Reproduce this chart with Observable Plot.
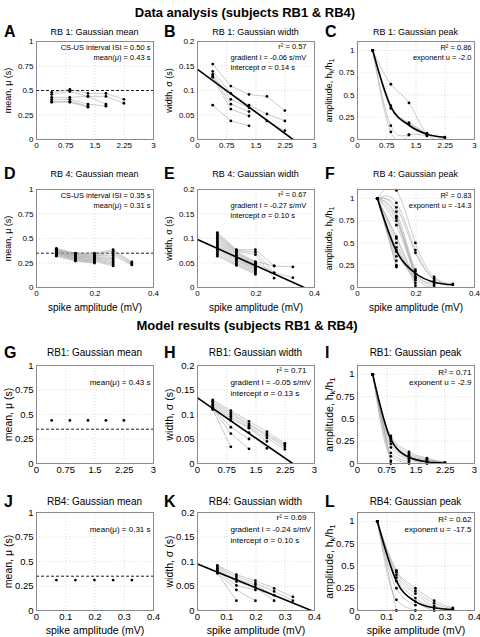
<!DOCTYPE html>
<html><head><meta charset="utf-8">
<script src="https://cdn.jsdelivr.net/npm/d3@7"></script>
<script src="https://cdn.jsdelivr.net/npm/@observablehq/plot@0.6"></script>
<style>
body{margin:0;background:#fff;}
#fig{position:relative;width:480px;height:637px;font-family:"Liberation Sans",Arial,sans-serif;overflow:hidden;background:#fff;color:#000;}
.abs{position:absolute;white-space:nowrap;line-height:1;}
.head{font-weight:bold;font-size:13px;transform:translate(-50%,-50%);}
.letter{font-weight:bold;font-size:16px;transform:translateY(-50%);}
.ptitle{transform:translate(-50%,-50%);}
svg{position:absolute;overflow:visible;}
</style></head><body><div id="fig"></div>
<script>
// ---------- data ----------
const xRB1 = [0.39, 0.855, 1.32, 1.78, 2.24];
const xRB4 = [0.068, 0.133, 0.198, 0.262, 0.326];
const xTicksRB1 = [0, 0.75, 1.5, 2.25, 3];
const xTicksData4 = [0, 0.2, 0.4];
const xTicksModel4 = [0, 0.1, 0.2, 0.3, 0.4];
const yTicksUnit = [0, 0.25, 0.5, 0.75, 1];
const yTicksWidth = [0, 0.05, 0.1, 0.15, 0.2];

const meanA = [
  [0.48, 0.51, 0.47, 0.47, 0.41],
  [0.46, 0.49, 0.44, 0.44, 0.37],
  [0.43, 0.43, 0.44, 0.36],
  [0.41, 0.41, 0.36, 0.34],
  [0.39, 0.39, 0.34],
  [0.38, 0.38, 0.33]
];
const widthB = [
  [0.154, 0.109, 0.092, 0.088, 0.059],
  [0.139, 0.094, 0.070, 0.052, 0.038],
  [0.133, 0.082, 0.065, 0.038, 0.018],
  [0.130, 0.072, 0.057],
  [0.127, 0.062, 0.048],
  [0.070, 0.038, 0.028]
];
const fitB = {x: [0, 2.45], y: [0.143, 0]};
const peakC = [
  [1, 0.62, 0.41, 0.06, 0.02],
  [1, 0.38, 0.19, 0.07, 0.025],
  [1, 0.35, 0.17, 0.055],
  [1, 0.155, 0.055, 0.04],
  [1, 0.085, 0.05]
];
const fitC = [1, 0.37, 0.16, 0.06, 0.025];

const meanD = [
  [0.40, 0.35, 0.35, 0.385, 0.26],
  [0.39, 0.345, 0.34, 0.37, 0.25],
  [0.385, 0.34, 0.33, 0.35, 0.24],
  [0.38, 0.33, 0.325, 0.33, 0.23],
  [0.375, 0.325, 0.315, 0.31],
  [0.37, 0.32, 0.31, 0.295],
  [0.365, 0.315, 0.30, 0.28],
  [0.36, 0.31, 0.295, 0.265],
  [0.355, 0.30, 0.285, 0.25],
  [0.35, 0.295, 0.28, 0.235],
  [0.345, 0.29, 0.27, 0.22],
  [0.34, 0.285, 0.265],
  [0.33, 0.275, 0.255],
  [0.32, 0.27, 0.25]
];
const widthE = [
  [0.112, 0.077, 0.077, 0.044, 0.042],
  [0.109, 0.076, 0.072, 0.030, 0.020],
  [0.106, 0.074, 0.067, 0.019],
  [0.103, 0.073, 0.053, 0.044],
  [0.100, 0.071, 0.051, 0.030],
  [0.097, 0.069, 0.049],
  [0.094, 0.067, 0.047],
  [0.091, 0.065, 0.045],
  [0.088, 0.062, 0.043],
  [0.085, 0.060, 0.041],
  [0.082, 0.058, 0.039],
  [0.079, 0.056, 0.037],
  [0.076, 0.053, 0.035],
  [0.072, 0.050, 0.032],
  [0.068, 0.047, 0.030],
  [0.064, 0.045, 0.027]
];
const fitE = {x: [0, 0.365], y: [0.098, 0]};
const peakF = [
  [1, 1.09, 0.50, 0.12, 0.04],
  [1, 0.95, 0.42, 0.10, 0.03],
  [1, 0.90, 0.39, 0.08],
  [1, 0.85, 0.20, 0.06],
  [1, 0.80, 0.18, 0.04],
  [1, 0.78, 0.15, 0.02],
  [1, 0.75, 0.12],
  [1, 0.70, 0.10],
  [1, 0.57, 0.08],
  [1, 0.55, 0.05],
  [1, 0.50, 0.02],
  [1, 0.45, 0.15],
  [1, 0.42, 0.12],
  [1, 0.40, 0.10],
  [1, 0.35],
  [1, 0.30],
  [1, 0.25],
  [1, 0.23]
];
const fitF = [1, 0.41, 0.16, 0.06, 0.03];

const meanG = [[0.44, 0.44, 0.44, 0.44, 0.44]];
const widthH = [
  [0.130, 0.108, 0.086, 0.065, 0.041],
  [0.127, 0.104, 0.081, 0.060, 0.038],
  [0.124, 0.100, 0.078, 0.057, 0.034],
  [0.121, 0.096, 0.074, 0.052, 0.029],
  [0.118, 0.092, 0.072, 0.045],
  [0.115, 0.088, 0.063, 0.031],
  [0.113, 0.074, 0.050],
  [0.112, 0.061, 0.030],
  [0.110, 0.034]
];
const fitH = {x: [0, 2.44], y: [0.134, 0]};
const peakI = [
  [1, 0.31, 0.13, 0.06, 0.01],
  [1, 0.29, 0.11, 0.05, 0.01],
  [1, 0.27, 0.09, 0.04, 0.01],
  [1, 0.25, 0.08, 0.03],
  [1, 0.22, 0.06, 0.02],
  [1, 0.18, 0.04, 0.0],
  [1, 0.12, 0.02],
  [1, 0.08, 0.0],
  [1, 0.03],
  [1, 0.0]
];
const fitI = [1, 0.27, 0.07, 0.02, 0.005];

const meanJ = [[0.31, 0.31, 0.31, 0.31, 0.31]];
const widthK = [
  [0.092, 0.073, 0.061, 0.045, 0.028],
  [0.089, 0.069, 0.056, 0.039, 0.020],
  [0.086, 0.064, 0.052, 0.031],
  [0.083, 0.059, 0.047, 0.020],
  [0.080, 0.051, 0.042],
  [0.077, 0.042, 0.020],
  [0.076, 0.020]
];
const fitK = {x: [0, 0.389], y: [0.095, 0]};
const peakL = [
  [1, 0.45, 0.25, 0.11, 0.03],
  [1, 0.43, 0.22, 0.08, 0.02],
  [1, 0.40, 0.19, 0.05, 0.01],
  [1, 0.37, 0.14, 0.03],
  [1, 0.33, 0.10, 0.0],
  [1, 0.25, 0.06],
  [1, 0.12, 0.0],
  [1, 0.0]
];
const fitL = [1, 0.33, 0.10, 0.03, 0.01];

// ---------- layout ----------
const fig = document.getElementById("fig");
const FONT = '"Liberation Sans", Arial, sans-serif';
const colLeft = [36, 197, 357];
const rowTop = [41, 189, 365, 512];
const titleY = [32, 174, 353, 502];
const FW = 117, FH = 98;
const ML = 42, MR = 6, MT = 6, MB = 30;
const fmt = d => String(d);
const SUBLABEL = "amplitude, hk/h1";

function addDiv(cls, text, left, top, extra) {
  const d = document.createElement("div");
  d.className = "abs " + cls;
  d.textContent = text;
  d.style.left = left + "px";
  d.style.top = top + "px";
  if (extra) Object.assign(d.style, extra);
  fig.appendChild(d);
}

function makePanel(p) {
  const big = p.row >= 2;
  const tickFont = big ? 9.5 : 8;
  const noteFont = big ? 8 : 7.5;
  const labFont = big ? 10.5 : 9;
  const pts = [];
  p.sessions.forEach((s, i) => s.forEach((v, j) => { if (v != null) pts.push({s: i, x: p.xBins[j], y: v}); }));
  const grid = {stroke: "#c4c4c4", strokeWidth: 0.6, strokeDasharray: "1,2"};
  const marks = [
    Plot.ruleX(p.xTicks, grid),
    Plot.ruleY(p.yTicks, grid)
  ];
  if (p.dashed != null) marks.push(Plot.ruleY([p.dashed], {stroke: "#000", strokeWidth: 0.9, strokeDasharray: "3,2"}));
  if (p.lines !== false) marks.push(Plot.line(pts, {x: "x", y: "y", z: "s", stroke: "#9d9d9d", strokeWidth: 0.55, curve: p.curve || "linear", clip: true}));
  if (p.fitLine) {
    const fl = p.fitLine.x.map((x, i) => ({x, y: p.fitLine.y[i]}));
    marks.push(Plot.line(fl, {x: "x", y: "y", stroke: "#000", strokeWidth: 1.6, clip: true}));
  }
  if (p.fitCurve) {
    const fc = p.fitCurve.map((y, i) => ({x: p.xBins[i], y}));
    marks.push(Plot.line(fc, {x: "x", y: "y", stroke: "#000", strokeWidth: 1.6, curve: "monotone-x", clip: true}));
  }
  marks.push(Plot.dot(pts, {x: "x", y: "y", r: 1.4, fill: "#000", stroke: null}));
  marks.push(Plot.frame({stroke: "#808080", strokeWidth: 0.9}));
  const step = noteFont * 1.3;
  if (p.right) marks.push(Plot.text([p.right.join("\n")], {text: d => d, frameAnchor: "top-right", dx: -3, dy: 2 + (p.rightOffset || 0) * step, textAnchor: "end", lineAnchor: "top", lineHeight: 1.3, fontSize: noteFont}));
  if (p.stat) marks.push(Plot.text([p.stat], {text: d => d, frameAnchor: "top-right", dx: -8, dy: 2, textAnchor: "end", lineAnchor: "top", fontSize: noteFont}));
  if (p.block) marks.push(Plot.text([p.block.join("\n")], {text: d => d, frameAnchor: "top-left", dx: 33, dy: 2 + step, textAnchor: "start", lineAnchor: "top", lineHeight: 1.3, fontSize: noteFont}));
  marks.push(Plot.text([p.ylabel], {text: d => d, frameAnchor: "left", dx: -28, rotate: -90, textAnchor: "middle", lineAnchor: "middle", fontSize: labFont}));
  if (p.xlabel) marks.push(Plot.text([p.xlabel], {text: d => d, frameAnchor: "bottom", dy: 20, textAnchor: "middle", lineAnchor: "middle", fontSize: big ? 10.5 : 10}));
  const svg = Plot.plot({
    width: ML + FW + MR, height: MT + FH + MB,
    marginLeft: ML, marginRight: MR, marginTop: MT, marginBottom: MB,
    style: {fontFamily: FONT, fontSize: tickFont + "px", color: "#000", background: "transparent", overflow: "visible"},
    x: {domain: p.xDomain, ticks: p.xTicks, tickFormat: fmt, tickSize: 0, tickPadding: 3, label: null},
    y: {domain: p.yDomain, ticks: p.yTicks, tickFormat: fmt, tickSize: 0, tickPadding: 3, label: null},
    marks
  });
  // subscripts for h_k / h_1
  svg.querySelectorAll("text").forEach(t => {
    if (t.textContent === SUBLABEL) {
      t.textContent = "";
      const ns = "http://www.w3.org/2000/svg";
      const parts = [["amplitude, h", 0], ["k", 1], ["/h", -1], ["1", 1]];
      parts.forEach(([str, sh]) => {
        const ts = document.createElementNS(ns, "tspan");
        ts.textContent = str;
        if (sh === 1) { ts.setAttribute("dy", "0.3em"); ts.setAttribute("font-size", "75%"); }
        if (sh === -1) ts.setAttribute("dy", "-0.22em");
        t.appendChild(ts);
      });
    }
  });
  svg.style.left = (colLeft[p.col] - ML) + "px";
  svg.style.top = (rowTop[p.row] - MT) + "px";
  fig.appendChild(svg);
  addDiv("letter", p.letter, [4, 164, 325][p.col], titleY[p.row]);
  addDiv("ptitle", p.title, colLeft[p.col] + FW / 2, titleY[p.row], {fontSize: (big ? 10 : 9) + "px"});
}

const rb1 = {xDomain: [0, 3], xTicks: xTicksRB1, xBins: xRB1};
const rb4d = {xDomain: [0, 0.4], xTicks: xTicksData4, xBins: xRB4, xlabel: "spike amplitude (mV)"};
const rb4m = {xDomain: [0, 0.4], xTicks: xTicksModel4, xBins: xRB4, xlabel: "spike amplitude (mV)"};
const meanY = {yDomain: [0, 1], yTicks: yTicksUnit, ylabel: "mean, \u03bc (s)"};
const widthY = {yDomain: [0, 0.2], yTicks: yTicksWidth, ylabel: "width, \u03c3 (s)"};
const peakY = {yDomain: [0, 1.1], yTicks: yTicksUnit, ylabel: SUBLABEL, curve: "natural"};

const panels = [
  {...rb1, ...meanY, row: 0, col: 0, letter: "A", title: "RB 1: Gaussian mean", sessions: meanA, dashed: 0.5,
    right: ["CS-US interval ISI = 0.50 s", "mean(\u03bc) = 0.43 s"]},
  {...rb1, ...widthY, row: 0, col: 1, letter: "B", title: "RB 1: Gaussian width", sessions: widthB, fitLine: fitB,
    stat: "r\u00b2 = 0.57", block: ["gradient l = -0.06 s/mV", "intercept \u03c3 = 0.14 s"]},
  {...rb1, ...peakY, row: 0, col: 2, letter: "C", title: "RB 1: Gaussian peak", sessions: peakC, fitCurve: fitC,
    right: ["R\u00b2 = 0.86", "exponent u = -2.0"]},
  {...rb4d, ...meanY, row: 1, col: 0, letter: "D", title: "RB 4: Gaussian mean", sessions: meanD, dashed: 0.35,
    right: ["CS-US interval ISI = 0.35 s", "mean(\u03bc) = 0.31 s"]},
  {...rb4d, ...widthY, row: 1, col: 1, letter: "E", title: "RB 4: Gaussian width", sessions: widthE, fitLine: fitE,
    stat: "r\u00b2 = 0.67", block: ["gradient l = -0.27 s/mV", "intercept \u03c3 = 0.10 s"]},
  {...rb4d, ...peakY, row: 1, col: 2, letter: "F", title: "RB 4: Gaussian peak", sessions: peakF, fitCurve: fitF,
    right: ["R\u00b2 = 0.83", "exponent u = -14.3"]},
  {...rb1, ...meanY, row: 2, col: 0, letter: "G", title: "RB1: Gaussian mean", sessions: meanG, dashed: 0.35, lines: false,
    right: ["mean(\u03bc) = 0.43 s"], rightOffset: 1},
  {...rb1, ...widthY, row: 2, col: 1, letter: "H", title: "RB1: Gaussian width", sessions: widthH, fitLine: fitH,
    stat: "r\u00b2 = 0.71", block: ["gradient l = -0.05 s/mV", "intercept \u03c3 = 0.13 s"]},
  {...rb1, ...peakY, row: 2, col: 2, letter: "I", title: "RB1: Gaussian peak", sessions: peakI, fitCurve: fitI, curve: "monotone-x",
    right: ["R\u00b2 = 0.71", "exponent u = -2.9"]},
  {...rb4m, ...meanY, row: 3, col: 0, letter: "J", title: "RB4: Gaussian mean", sessions: meanJ, dashed: 0.35, lines: false,
    right: ["mean(\u03bc) = 0.31 s"], rightOffset: 1},
  {...rb4m, ...widthY, row: 3, col: 1, letter: "K", title: "RB4: Gaussian width", sessions: widthK, fitLine: fitK,
    stat: "r\u00b2 = 0.69", block: ["gradient l = -0.24 s/mV", "intercept \u03c3 = 0.10 s"]},
  {...rb4m, ...peakY, row: 3, col: 2, letter: "L", title: "RB4: Gaussian peak", sessions: peakL, fitCurve: fitL, curve: "monotone-x",
    right: ["R\u00b2 = 0.62", "exponent u = -17.5"]}
];

addDiv("head", "Data analysis (subjects RB1 & RB4)", 245, 12);
addDiv("head", "Model results (subjects RB1 & RB4)", 247, 325);
panels.forEach(makePanel);
</script></body></html>
